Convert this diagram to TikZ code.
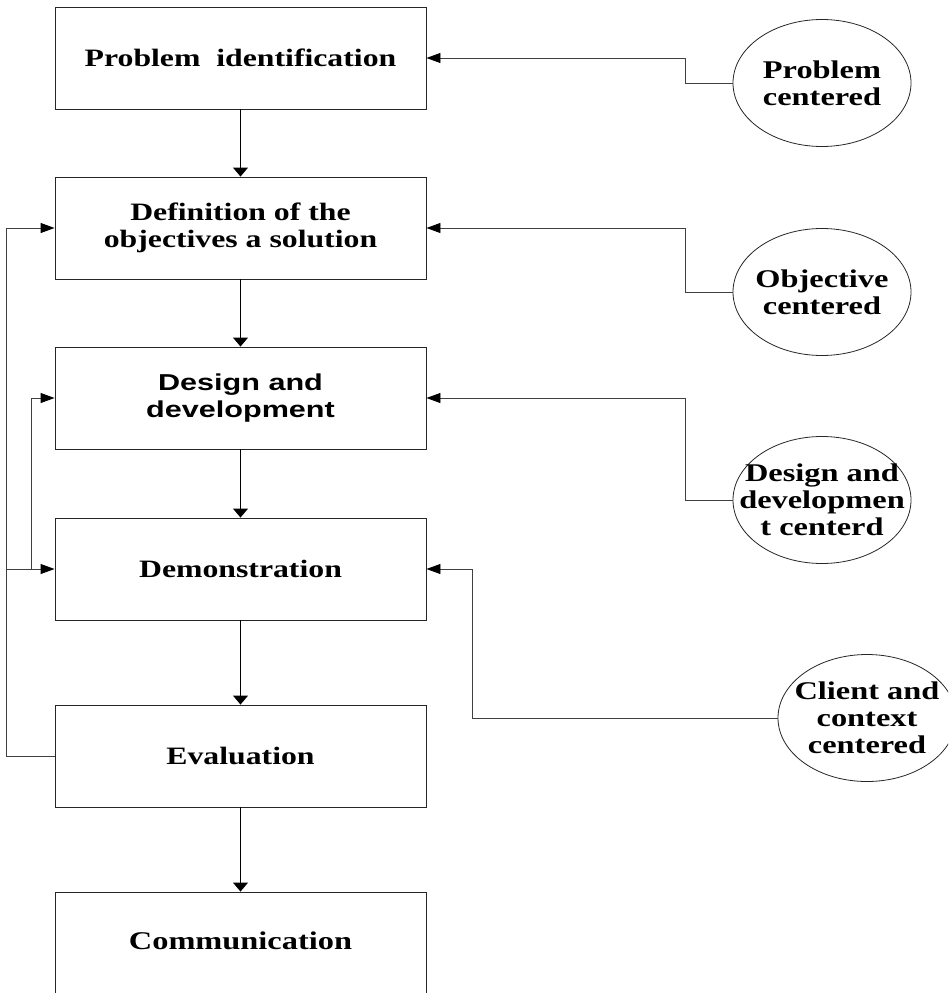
\documentclass[tikz,border=0pt]{standalone}
\usepackage{fontspec}
\usetikzlibrary{arrows.meta,shapes.geometric}
\newfontfamily\tnr[FakeStretch=1.27]{Liberation Serif}
\newfontfamily\arl[FakeStretch=1.33]{Liberation Sans}
\begin{document}
\begin{tikzpicture}[x=1pt,y=-1pt,
  stepbox/.style={draw=black!85,line width=0.9pt,minimum width=371pt,minimum height=102pt,inner sep=0pt,
    align=center,font=\tnr\bfseries\fontsize{25}{27}\selectfont},
  ell/.style={draw=black!85,line width=0.8pt,ellipse,minimum width=178pt,minimum height=127pt,inner sep=0pt},
  etext/.style={align=center,inner sep=0pt,font=\tnr\bfseries\fontsize{25.5}{27}\selectfont},
  darrow/.style={draw=black,line width=0.9pt,-{Triangle[length=9pt,width=15pt,color=black,fill=black]}},
  harrow/.style={draw=black!75,line width=0.9pt,-{Triangle[length=14pt,width=10pt,color=black,fill=black]}}
]
\clip (0,0) rectangle (948,993);
\useasboundingbox (0,0) rectangle (948,993);

\node[stepbox] (b1) at (240.5,58) {Problem\ \ identification};
\node[stepbox] (b2) at (240.5,228) {Definition of the\\objectives a solution};
\node[stepbox,font=\arl\bfseries\fontsize{23}{27}\selectfont] (b3) at (240.5,398) {Design and\\development};
\node[stepbox] (b4) at (240.5,569) {Demonstration};
\node[stepbox] (b5) at (240.5,756) {Evaluation};
\node[stepbox] (b6) at (240.5,943) {};
\node[etext] (t6) at (240.5,941) {Communication};

\node[ell] (e1) at (822,83) {};
\node[etext] (t1) at (e1.center) {Problem\\centered};
\node[ell] (e2) at (822,292) {};
\node[etext] (t2) at (e2.center) {Objective\\centered};
\node[ell] (e3) at (822,500) {};
\node[etext] (t3) at (e3.center) {Design and\\developmen\\t centerd};
\node[ell] (e4) at (867,718) {};
\node[etext] (t4) at (e4.center) {Client and\\context\\centered};

\draw[darrow] (b1.south) -- (b2.north);
\draw[darrow] (b2.south) -- (b3.north);
\draw[darrow] (b3.south) -- (b4.north);
\draw[darrow] (b4.south) -- (b5.north);
\draw[darrow] (b5.south) -- (b6.north);

\draw[harrow] (e1.west) -- ++(-47,0) |- (b1.east);
\draw[harrow] (e2.west) -- ++(-47,0) |- (b2.east);
\draw[harrow] (e3.west) -- ++(-47,0) |- (b3.east);
\draw[harrow] (e4.west) -- ++(-305,0) |- (b4.east);

\draw[harrow] (b5.west) -- ++(-48,0) |- (b2.west);
\draw[harrow] (b5.west) ++(-48,0) |- (b4.west);
\draw[harrow] (b4.west) ++(-23,0) |- (b3.west);
\end{tikzpicture}
\end{document}
